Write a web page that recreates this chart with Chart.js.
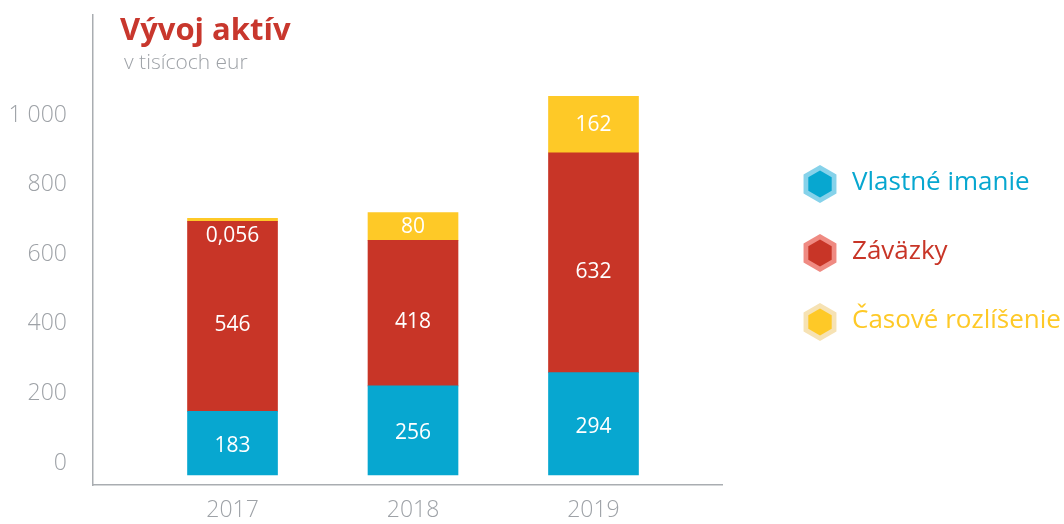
<!DOCTYPE html>
<html>
<head>
<meta charset="utf-8">
<script src="https://cdn.jsdelivr.net/npm/chart.js@4"></script>
<style>
  body { margin: 0; background: #fff; }
  #wrap { width: 1064px; height: 524px; position: relative; }
</style>
</head>
<body>
<div id="wrap"><canvas id="assetsChart" width="1064" height="524"></canvas></div>
<script>
// === Data ===
const years = ["2017", "2018", "2019"];
const equity = [183, 256, 294];
const liabilities = [546, 418, 632];
const accruals = [0.056, 80, 162];
const seriesNames = ["Vlastné imanie", "Záväzky", "Časové rozlíšenie"];
const yTicks = [0, 200, 400, 600, 800, 1000];

const BLUE = "#07a7d0";
const RED = "#c83527";
const YELLOW = "#fec927";
const GRAY = "#9ea2a7";
const FONT = "'Open Sans', 'Noto Sans', sans-serif";

function fmt(v) {
  return v.toLocaleString("sk-SK").replace(/\u00a0/g, " ");
}

// === Plugins ===
const titlePlugin = {
  id: "titleText",
  afterDraw(chart) {
    const ctx = chart.ctx;
    ctx.save();
    ctx.textBaseline = "alphabetic";
    ctx.textAlign = "left";
    ctx.fillStyle = "#c8372d";
    ctx.font = "bold 31px " + FONT;
    ctx.fillText("Vývoj aktív", 120, 40);
    ctx.fillStyle = GRAY;
    ctx.font = "300 21px " + FONT;
    ctx.fillText("v tisícoch eur", 124, 69);
    ctx.restore();
  }
};

// labels sit a bit below the middle of each segment, like the original
const labelShift = [3, 9, 0];

const valueLabels = {
  id: "valueLabels",
  afterDatasetsDraw(chart) {
    const ctx = chart.ctx;
    ctx.save();
    ctx.fillStyle = "#fff";
    ctx.font = "21px " + FONT;
    ctx.textAlign = "center";
    ctx.textBaseline = "middle";
    chart.data.datasets.forEach((ds, di) => {
      chart.getDatasetMeta(di).data.forEach((bar, i) => {
        const h = bar.base - bar.y;
        let y = (bar.y + bar.base) / 2 + labelShift[di];
        if (h < 20) y = bar.base + 15;
        ctx.fillText(fmt(ds.data[i].y), bar.x, y);
      });
    });
    ctx.restore();
  }
};

function hexagon(ctx, cx, cy, r) {
  ctx.beginPath();
  for (let k = 0; k < 6; k++) {
    const a = Math.PI / 2 + k * Math.PI / 3;
    const x = cx + r * Math.cos(a);
    const y = cy - r * Math.sin(a);
    if (k === 0) ctx.moveTo(x, y); else ctx.lineTo(x, y);
  }
  ctx.closePath();
  ctx.fill();
}

const hexLegend = {
  id: "hexLegend",
  afterDraw(chart) {
    const ctx = chart.ctx;
    const lights = ["#86d2ea", "#ef8a82", "#f6e2b4"];
    const rows = [184, 253, 322];
    ctx.save();
    ctx.font = "26px " + FONT;
    ctx.textAlign = "left";
    ctx.textBaseline = "middle";
    chart.data.datasets.forEach((ds, i) => {
      ctx.fillStyle = lights[i];
      hexagon(ctx, 820, rows[i], 19);
      ctx.fillStyle = ds.backgroundColor;
      hexagon(ctx, 820, rows[i], 13.5);
      ctx.fillText(ds.label, 852, rows[i] - 1);
    });
    ctx.restore();
  }
};

// === Chart ===
function toPoints(arr) {
  return arr.map((v, i) => ({ x: i, y: v }));
}

new Chart(document.getElementById("assetsChart"), {
  type: "bar",
  data: {
    datasets: [
      { label: seriesNames[0], data: toPoints(equity), backgroundColor: BLUE },
      { label: seriesNames[1], data: toPoints(liabilities), backgroundColor: RED },
      { label: seriesNames[2], data: toPoints(accruals), backgroundColor: YELLOW, minBarLength: 3 }
    ]
  },
  options: {
    responsive: false,
    animation: false,
    barThickness: 90,
    layout: { padding: { left: 0, right: 342, top: 15, bottom: 0 } },
    plugins: {
      legend: { display: false },
      tooltip: { enabled: false }
    },
    scales: {
      x: {
        type: "linear",
        stacked: true,
        offset: false,
        min: -0.773,
        max: 2.712,
        grid: { display: false, drawTicks: false },
        border: { display: true, color: "#a9adb1", width: 1.5 },
        afterBuildTicks(scale) { scale.ticks = years.map((y, i) => ({ value: i })); },
        afterFit(scale) { scale.height = 39; scale.paddingLeft = 0; scale.paddingRight = 0; },
        ticks: {
          color: GRAY,
          font: { family: FONT, size: 23, weight: 300 },
          padding: 12,
          callback: (v) => years[v]
        }
      },
      y: {
        stacked: true,
        min: -28.7,
        max: 1321.8,
        grid: { display: false, drawTicks: false },
        border: { display: true, color: "#a9adb1", width: 1.5 },
        afterBuildTicks(scale) { scale.ticks = yTicks.map(v => ({ value: v })); },
        afterFit(scale) { scale.width = 93; scale.paddingTop = 0; scale.paddingBottom = 0; },
        ticks: {
          color: GRAY,
          font: { family: FONT, size: 23, weight: 300 },
          padding: 26,
          labelOffset: -12,
          callback: (v) => fmt(v)
        }
      }
    }
  },
  plugins: [titlePlugin, valueLabels, hexLegend]
});
</script>
</body>
</html>
